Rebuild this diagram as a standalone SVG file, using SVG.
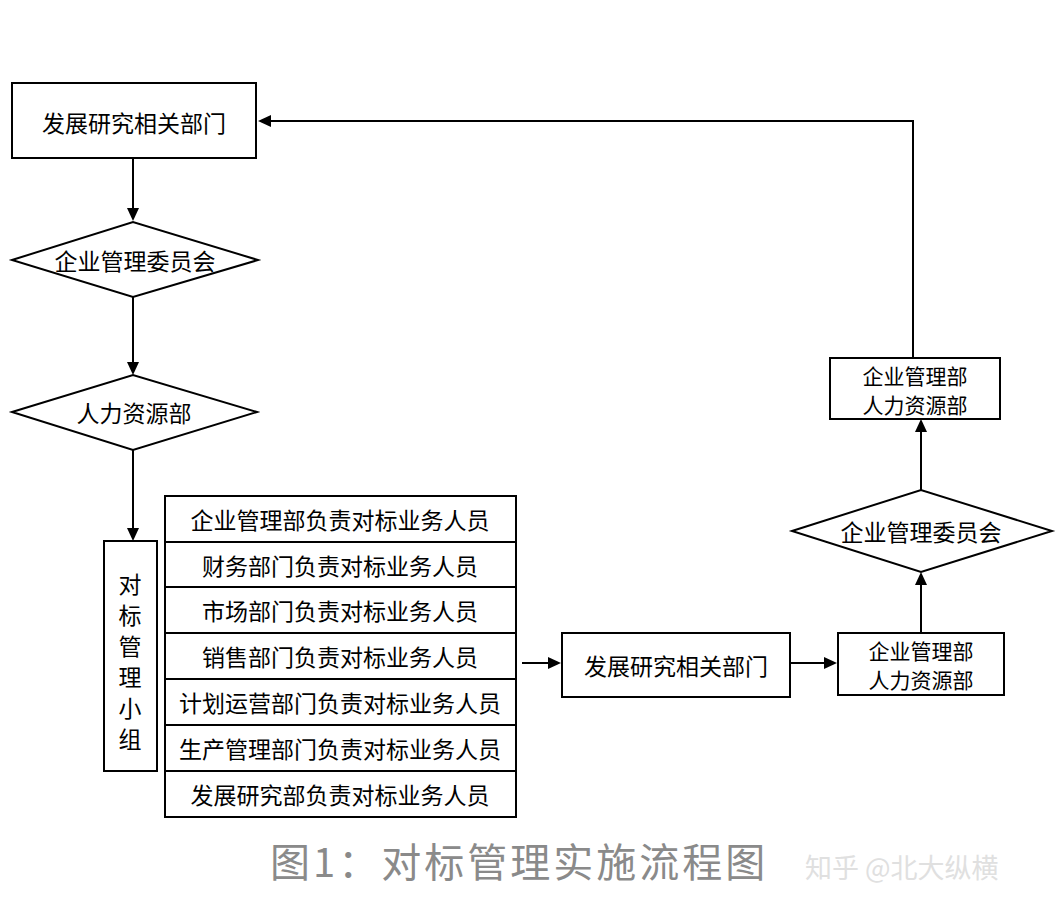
<svg xmlns="http://www.w3.org/2000/svg" width="1062" height="913" viewBox="0 0 1062 913">
<defs>
<style>
.s{fill:#fff;stroke:#000;stroke-width:2}
.t{font-family:"Noto Sans CJK SC",sans-serif;font-size:23px;fill:#000;text-anchor:middle;dominant-baseline:central}
.t2{font-size:21px}
.l{stroke:#000;stroke-width:2;fill:none}
</style>
</defs>
<rect width="1062" height="913" fill="#fff"/>
<g id="connectors">
<path class="l" d="M133,158 V208"/><path d="M127,208 L133,221 L139,208 z"/>
<path class="l" d="M133,297 V362"/><path d="M127,362 L133,375 L139,362 z"/>
<path class="l" d="M133,450 V528"/><path d="M127,528 L133,541 L139,528 z"/>
<path class="l" d="M522,663 H548"/><path d="M548,657 L561,663 L548,669 z"/>
<path class="l" d="M790,663 H824"/><path d="M824,657 L837,663 L824,669 z"/>
<path class="l" d="M921,633 V585"/><path d="M915,585 L921,572 L927,585 z"/>
<path class="l" d="M921,490 V432"/><path d="M915,432 L921,419 L927,432 z"/>
<path class="l" d="M913,358 V121 H271"/><path d="M271,115 L258,121 L271,127 z"/>
</g>
<g id="n1"><rect class="s" x="12" y="83" width="244" height="75"/><text class="t" x="134" y="122">发展研究相关部门</text></g>
<g id="n2"><polygon class="s" points="12,260 133,222 258,260 133,297"/><text class="t" x="135" y="260">企业管理委员会</text></g>
<g id="n3"><polygon class="s" points="12,412 133,375 257,412 133,450"/><text class="t" x="134" y="412">人力资源部</text></g>
<g id="n4"><rect class="s" x="104" y="541" width="53" height="230"/>
<text class="t" x="130" y="583">对</text><text class="t" x="130" y="614">标</text><text class="t" x="130" y="645">管</text><text class="t" x="130" y="676">理</text><text class="t" x="130" y="707">小</text><text class="t" x="130" y="738">组</text></g>
<g id="n5">
<rect class="s" x="165" y="496" width="351" height="46"/><text class="t" x="340" y="519">企业管理部负责对标业务人员</text>
<rect class="s" x="165" y="542" width="351" height="45"/><text class="t" x="340" y="565">财务部门负责对标业务人员</text>
<rect class="s" x="165" y="587" width="351" height="46"/><text class="t" x="340" y="610">市场部门负责对标业务人员</text>
<rect class="s" x="165" y="633" width="351" height="46"/><text class="t" x="340" y="656">销售部门负责对标业务人员</text>
<rect class="s" x="165" y="679" width="351" height="46"/><text class="t" x="340" y="702">计划运营部门负责对标业务人员</text>
<rect class="s" x="165" y="725" width="351" height="46"/><text class="t" x="340" y="748">生产管理部门负责对标业务人员</text>
<rect class="s" x="165" y="771" width="351" height="46"/><text class="t" x="340" y="794">发展研究部负责对标业务人员</text>
</g>
<g id="n6"><rect class="s" x="562" y="633" width="228" height="64"/><text class="t" x="676" y="665">发展研究相关部门</text></g>
<g id="n7"><rect class="s" x="838" y="633" width="166" height="62"/><text class="t t2" x="921" y="650">企业管理部</text><text class="t t2" x="921" y="679">人力资源部</text></g>
<g id="n8"><polygon class="s" points="792,531 921,490 1052,531 921,572"/><text class="t" x="921" y="531">企业管理委员会</text></g>
<g id="n9"><rect class="s" x="830" y="358" width="170" height="61"/><text class="t t2" x="915" y="375">企业管理部</text><text class="t t2" x="915" y="404">人力资源部</text></g>
<text x="270" y="860" font-family="'Noto Sans CJK SC',sans-serif" font-size="40" fill="#8a8a8a" dominant-baseline="central" letter-spacing="3">图1：对标管理实施流程图</text>
<text x="805" y="866" font-family="'Noto Sans CJK SC',sans-serif" font-size="27" fill="#e0e0e0" dominant-baseline="central">知乎 @北大纵横</text>
</svg>
